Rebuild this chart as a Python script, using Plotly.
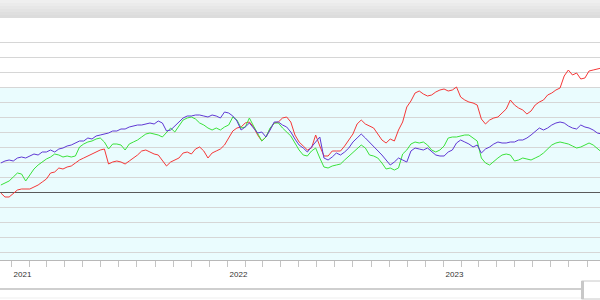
import pandas as pd
import plotly.graph_objects as go

# Weekly observation dates (category axis)
dates = pd.date_range("2020-12-14", periods=146, freq="7D")

# Series values (relative change, arbitrary units; grid step = 15)
blue_vals = [
    29, 31, 32, 31, 34, 35, 34, 36, 38, 37,
    40, 40, 42, 40, 43, 44, 46, 47, 49, 51,
    51, 54, 53, 56, 57, 58, 59, 61, 61, 63,
    63, 65, 66, 67, 67, 68, 69, 68, 71, 69,
    61, 62, 66, 71, 74, 76, 76, 77, 77,
    76, 75, 77, 76, 74, 80, 79, 76, 71, 62,
    65, 69, 64, 59, 60, 55, 62, 70, 70, 67,
    65, 60, 53, 47, 44, 40, 45, 50, 55, 34,
    32, 35, 39, 37, 40, 44, 50, 54, 58, 54,
    50, 45, 41, 37, 32, 27, 30, 34,
    32, 30, 41, 44, 43, 42, 44, 40, 37, 36,
    36, 40, 42, 49, 52, 50, 48, 45, 47, 39,
    43, 45, 48, 50, 49, 49, 50, 50, 52, 52,
    54, 57, 61, 64, 62, 64, 67, 69, 70, 69,
    66, 64, 63, 67, 65, 64, 62, 59, 58,
]
green_vals = [
    7, 9, 11, 15, 19, 18, 11, 17, 23, 27,
    30, 33, 35, 38, 37, 35, 36, 35, 36, 45,
    48, 50, 51, 53, 54, 50, 43, 48, 48, 47,
    42, 48, 50, 52, 55, 58, 59, 58, 57, 55,
    59, 64, 60, 66, 72, 74, 75, 73, 69,
    67, 64, 62, 64, 62, 65, 67, 75, 72, 64,
    65, 74, 66, 58, 51, 55, 64, 69, 69, 64,
    60, 56, 49, 42, 37, 36, 41, 44, 34, 25,
    24, 26, 27, 28, 32, 36, 40, 44, 47, 44,
    37, 36, 34, 29, 23, 24, 22, 24,
    38, 42, 48, 50, 49, 50, 47, 42, 40, 42,
    46, 54, 55, 55, 56, 57, 57, 54, 51, 34,
    29, 27, 31, 34, 37, 38, 37, 31, 32, 34,
    33, 32, 34, 36, 39, 43, 47, 49, 50, 49,
    48, 46, 44, 45, 47, 49, 47, 43, 40,
]
red_vals = [
    -1, -5, -5, -1, 2, 3, 3, 3, 5, 7,
    10, 13, 19, 20, 24, 23, 25, 26, 29, 32,
    34, 36, 38, 40, 42, 43, 28, 30, 31, 30,
    28, 31, 34, 37, 41, 42, 40, 38, 37, 31,
    26, 30, 32, 34, 39, 40, 38, 43, 45,
    41, 34, 39, 41, 43, 47, 54, 61, 64, 65,
    69, 70, 65, 57, 51, 55, 63, 69, 70, 74,
    75, 70, 57, 50, 46, 42, 44, 57, 46, 36,
    36, 41, 41, 41, 46, 52, 58, 68, 72, 68,
    66, 64, 58, 52, 49, 53, 51, 62,
    70, 85, 91, 99, 101, 98, 96, 97, 100, 102,
    103, 101, 102, 105, 95, 92, 90, 89, 87, 73,
    68, 72, 74, 75, 79, 83, 92, 87, 84, 82,
    78, 81, 87, 90, 92, 97, 99, 102, 104, 116,
    122, 117, 119, 113, 114, 121, 122, 123, 124,
]

year_ticks = ["2021-01-01", "2022-01-01", "2023-01-01"]
year_labels = ["2021", "2022", "2023"]
grid_vals = [-60, -45, -30, -15, 0, 15, 30, 45, 60, 75, 90, 105, 120, 135, 150]
x_range = ["2020-12-12 14:00", "2023-09-22 12:00"]
y_range = [-68, 174]
band_from = 105

fig = go.Figure()
fig.add_trace(go.Scatter(x=dates, y=red_vals, mode="lines",
                         line=dict(color="#f53838", width=1), name="Red"))
fig.add_trace(go.Scatter(x=dates, y=green_vals, mode="lines",
                         line=dict(color="#3be23b", width=1), name="Green"))
fig.add_trace(go.Scatter(x=dates, y=blue_vals, mode="lines",
                         line=dict(color="#6038d4", width=1), name="Blue"))

shapes = []
# light cyan band in lower part of plot
shapes.append(dict(type="rect", xref="paper", yref="y", x0=0, x1=1,
                   y0=y_range[0], y1=band_from, fillcolor="#eafcfe",
                   line=dict(width=0), layer="below"))
# header gradient
ph = 242.0
hcols = ["#efefef", "#ebebeb", "#e7e7e7", "#e3e3e3", "#dfdfdf", "#dcdcdc"]
for k, c in enumerate(hcols):
    shapes.append(dict(type="rect", xref="paper", yref="paper", x0=0, x1=1,
                       y0=1 + (18 - 3 * (k + 1)) / ph, y1=1 + (18 - 3 * k) / ph,
                       fillcolor=c, line=dict(width=0), layer="above"))
# scrollbar track and handle
shapes.append(dict(type="line", xref="paper", yref="paper", x0=0, x1=581 / 600,
                   y0=-29 / ph, y1=-29 / ph, line=dict(color="#cfcfcf", width=2)))
shapes.append(dict(type="line", xref="paper", yref="paper", x0=0, x1=1,
                   y0=-38 / ph, y1=-38 / ph, line=dict(color="#efefef", width=1)))
shapes.append(dict(type="rect", xref="paper", yref="paper", x0=581.5 / 600, x1=1.01,
                   y0=-39 / ph, y1=-21 / ph, fillcolor="#ffffff",
                   line=dict(color="#c8c8c8", width=1)))
shapes.append(dict(type="line", xref="paper", yref="paper", x0=582.5 / 600, x1=582.5 / 600,
                   y0=-39 / ph, y1=-21 / ph, line=dict(color="#c8c8c8", width=3)))

fig.update_layout(
    width=600, height=300,
    margin=dict(l=0, r=0, t=18, b=40),
    paper_bgcolor="#ffffff", plot_bgcolor="#ffffff",
    showlegend=False,
    shapes=shapes,
    font=dict(family="Liberation Sans, Arial, sans-serif", size=8, color="#333333"),
)
fig.update_xaxes(
    range=x_range, type="date",
    tickmode="array", tickvals=year_ticks, ticktext=year_labels,
    ticks="outside", ticklen=6, tickcolor="#c4c4c4", tickwidth=1,
    ticklabelshift=11,
    minor=dict(dtick="M1", tick0="2021-01-01", ticks="outside", ticklen=6,
               tickcolor="#c4c4c4", showgrid=False),
    showgrid=False, showline=True, linecolor="#b8b8b8", linewidth=1,
    zeroline=False, fixedrange=True,
)
fig.update_yaxes(
    range=y_range, tickmode="array", tickvals=grid_vals,
    showticklabels=False, showgrid=True, gridcolor="#d6d6d6", gridwidth=1,
    zeroline=True, zerolinecolor="#5a5a5a", zerolinewidth=1,
    showline=False, ticks="",
)

fig.write_html("out.html")
